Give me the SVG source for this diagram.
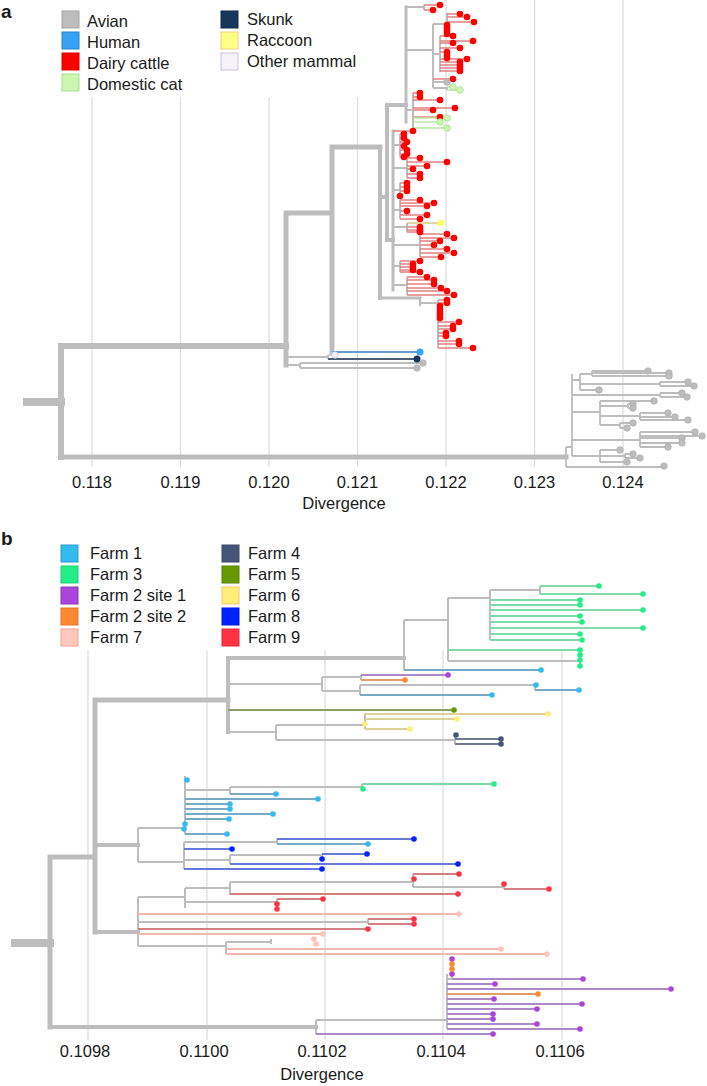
<svg xmlns="http://www.w3.org/2000/svg" width="707" height="1086" viewBox="0 0 707 1086">
<style>
text{font-family:"Liberation Sans",Arial,sans-serif;fill:#1a1a1a}
.lbl{font-size:16.5px}
.tk{font-size:16.5px;text-anchor:middle}
.pl{font-size:19px;font-weight:bold}
.grid line{stroke:#dcdcdc;stroke-width:1.2}
.th{stroke:#bdbdbd;fill:none;stroke-linecap:square}
.g{stroke:#bdbdbd;stroke-width:2;fill:none}
.ga{stroke:#bdbdbd;stroke-width:1.8;fill:none}
.rl{stroke:#e57f7f;stroke-width:1.5;fill:none}
.cl{stroke:#b9e6a3;stroke-width:1.5;fill:none}
.dr circle{fill:#ff0000}
.dc circle{fill:#ccf5b0;stroke:#a8df8c;stroke-width:0.8}
.dg circle{fill:#bdbdbd;stroke:#a9a9a9;stroke-width:0.6}
.f1l{stroke:#78aac8;stroke-width:2;fill:none}
.f3l{stroke:#7fdcaa;stroke-width:2;fill:none}
.f21l{stroke:#ae88c8;stroke-width:2;fill:none}
.f22l{stroke:#e49c6c;stroke-width:2;fill:none}
.f7l{stroke:#efb9b0;stroke-width:2;fill:none}
.f4l{stroke:#6e7890;stroke-width:2;fill:none}
.f5l{stroke:#8ba068;stroke-width:2;fill:none}
.f6l{stroke:#ddd198;stroke-width:2;fill:none}
.f8l{stroke:#6677dd;stroke-width:2;fill:none}
.f9l{stroke:#d58080;stroke-width:2;fill:none}
.f1 circle{fill:#33bbee}
.f3 circle{fill:#22ee88}
.f21 circle{fill:#aa44dd}
.f22 circle{fill:#ff8833}
.f7 circle{fill:#ffc4b8}
.f4 circle{fill:#445577}
.f5 circle{fill:#669900}
.f6 circle{fill:#ffee77}
.f8 circle{fill:#0022ff}
.f9 circle{fill:#ff3344}
</style>

<!-- ===== Panel a ===== -->
<g id="panel-a-grid" class="grid">
<line x1="92" y1="97" x2="92" y2="467"/>
<line x1="180.5" y1="97" x2="180.5" y2="467"/>
<line x1="269" y1="97" x2="269" y2="467"/>
<line x1="357.5" y1="97" x2="357.5" y2="467"/>
<line x1="446" y1="0" x2="446" y2="467"/>
<line x1="534.5" y1="0" x2="534.5" y2="467"/>
<line x1="623" y1="0" x2="623" y2="467"/>
</g>
<text class="pl" x="1" y="18">a</text>

<g id="legend-a">
<rect x="62" y="11" width="17" height="17" fill="#bdbdbd" stroke="#a3a3a3"/>
<text class="lbl" x="87" y="27">Avian</text>
<rect x="62" y="32" width="17" height="17" fill="#35a2f4" stroke="#2a86cc"/>
<text class="lbl" x="87" y="48">Human</text>
<rect x="62" y="53" width="17" height="17" fill="#ff0000" stroke="#e00000"/>
<text class="lbl" x="87" y="69">Dairy cattle</text>
<rect x="62" y="74" width="17" height="17" fill="#ccf5b0" stroke="#a8df8c"/>
<text class="lbl" x="87" y="90">Domestic cat</text>
<rect x="221" y="11" width="17" height="17" fill="#16365c" stroke="#10284a"/>
<text class="lbl" x="247" y="25">Skunk</text>
<rect x="221" y="32" width="17" height="17" fill="#ffff88" stroke="#f2d27a"/>
<text class="lbl" x="247" y="46">Raccoon</text>
<rect x="221" y="53" width="17" height="17" fill="#f6f2fb" stroke="#c9c1dd"/>
<text class="lbl" x="247" y="67">Other mammal</text>
</g>

<g id="tree-a-connectors">
<path class="th" stroke-width="8" d="M27 402H61"/>
<path class="th" stroke-width="6" d="M61 346V457M61 346H286"/>
<path class="th" stroke-width="5" d="M61 457H566M286 213V365M286 213H332M332 147V352M332 147H380"/>
<path class="th" stroke-width="4" d="M380 147V298M380 197H387M387 105V240M387 105H406M387 240H393"/>
<path class="th" stroke-width="3" d="M406 7V122M393 131V290M380 298H420"/>
<path class="g" d="M406 7H424M424 5V10M406 50H433M433 24V88M433 24H447M447 13V34M433 54H440M440 36V72M433 88H447M447 87V90M406 110H413M413 93V128
M393 145H400M400 134V157M393 168H407M407 158V178M393 190H400M400 183V196M393 210H400M400 200V219M393 227H407M407 223V232M393 245H420M420 234V257M393 266H400M400 261V272M393 285H407M407 277V295
M420 298V306M420 303H438M438 300V348M433 82H447
M286 357H328M328 355V359M286 365H300M300 363V368"/>
<path class="rl" d="M424 5H440M424 10H433M447 14H460M447 17H467M447 22H474M440 36H453M440 41H473M440 43H453M440 48H460M440 52H447M440 59H467M440 62H460M440 65H460M440 68H460M440 71H460M433 79H453
M413 93H420M413 97H420M413 100H440M413 108H455M413 110H433M413 117H440
M393 131H413M400 134H404M400 138H404M400 142H407M400 146H404M400 150H407M400 154H407M400 157H404
M407 158H420M407 162H447M407 166H427M407 169H413M407 174H420M407 178H420
M400 183H407M400 187H407M400 191H407
M400 200H420M400 203H434M400 206H427M400 211H407M400 215H427M400 219H420
M407 227H420M407 230H420M407 232H420
M420 234H447M420 238H454M420 241H440M420 245H434M420 249H447M420 253H454M420 257H441
M400 261H420M400 264H413M400 267H413M400 270H413M400 272H420
M407 277H427M407 280H434M407 284H434M407 288H441M407 291H447M407 295H454
M438 300H447M438 303H447M438 322H459M438 326H453M438 329H453M438 333H446M438 336H446M438 341H459M438 344H459M438 348H473"/>
<path class="cl" d="M447 87H453M447 90H460M413 118H447M413 122H440M413 128H447"/>
<path stroke="#d8c77f" stroke-width="1.5" fill="none" d="M407 223H441"/>
<path stroke="#6d9bcb" stroke-width="2" fill="none" d="M332 352H420"/>
<path stroke="#4b5b72" stroke-width="2" fill="none" d="M328 359H417"/>
<path stroke="#c9c1dd" stroke-width="1.5" fill="none" d="M328 355H335"/>
<path class="ga" d="M300 363H423M300 368H417"/>
<path class="ga" d="M566 447V467M566 447H572M572 374V456M572 380H580M580 374V390M580 374H592M592 371V376M592 371H648M592 373H669M592 376H669M580 384H660M660 382V386M660 382H688M660 386H694M580 390H599M572 395H660M660 393V397M660 393H682M660 397H687M572 412H600M600 401V425M600 401H654M600 406H628M628 404V408M628 404H633M628 408H633M600 416H640M640 413V420M640 413H668M640 417H675M640 420H688M600 425H620M620 423V428M620 423H633M620 428H627M572 440H640M640 432V447M640 432H695M640 436H702M640 438H682M640 443H682M640 447H668M572 456H600M600 450V462M600 450H620M600 456H625M625 454V458M625 454H633M625 458H640M600 462H627M566 467H664"/>
</g>

<g id="tips-a-cattle" class="dr">
<circle cx="440" cy="5" r="3.3"/><circle cx="433" cy="10" r="3.3"/><circle cx="460" cy="14" r="3.3"/><circle cx="467" cy="17" r="3.3"/><circle cx="474" cy="22" r="3.3"/>
<circle cx="447" cy="25" r="3.3"/><circle cx="447" cy="28" r="3.3"/><circle cx="447" cy="31" r="3.3"/><circle cx="447" cy="34" r="3.3"/>
<circle cx="453" cy="36" r="3.3"/><circle cx="473" cy="41" r="3.3"/><circle cx="453" cy="43" r="3.3"/><circle cx="460" cy="48" r="3.3"/><circle cx="447" cy="52" r="3.3"/><circle cx="447" cy="55" r="3.3"/><circle cx="447" cy="58" r="3.3"/><circle cx="467" cy="59" r="3.3"/><circle cx="460" cy="62" r="3.3"/><circle cx="460" cy="65" r="3.3"/><circle cx="460" cy="68" r="3.3"/><circle cx="460" cy="71" r="3.3"/><circle cx="453" cy="79" r="3.3"/>
<circle cx="420" cy="93" r="3.3"/><circle cx="420" cy="97" r="3.3"/><circle cx="440" cy="100" r="3.3"/><circle cx="455" cy="108" r="3.3"/><circle cx="433" cy="110" r="3.3"/><circle cx="440" cy="117" r="3.3"/>
<circle cx="413" cy="131" r="3.3"/><circle cx="404" cy="134" r="3.3"/><circle cx="404" cy="138" r="3.3"/><circle cx="407" cy="142" r="3.3"/><circle cx="404" cy="146" r="3.3"/><circle cx="407" cy="150" r="3.3"/><circle cx="407" cy="154" r="3.3"/><circle cx="404" cy="157" r="3.3"/>
<circle cx="420" cy="158" r="3.3"/><circle cx="447" cy="162" r="3.3"/><circle cx="427" cy="166" r="3.3"/><circle cx="413" cy="169" r="3.3"/><circle cx="420" cy="174" r="3.3"/><circle cx="420" cy="178" r="3.3"/>
<circle cx="407" cy="183" r="3.3"/><circle cx="407" cy="187" r="3.3"/><circle cx="407" cy="191" r="3.3"/><circle cx="400" cy="196" r="3.3"/>
<circle cx="420" cy="200" r="3.3"/><circle cx="434" cy="203" r="3.3"/><circle cx="427" cy="206" r="3.3"/><circle cx="407" cy="211" r="3.3"/><circle cx="427" cy="215" r="3.3"/><circle cx="420" cy="219" r="3.3"/>
<circle cx="420" cy="227" r="3.3"/><circle cx="420" cy="230" r="3.3"/><circle cx="420" cy="232" r="3.3"/>
<circle cx="447" cy="234" r="3.3"/><circle cx="454" cy="238" r="3.3"/><circle cx="440" cy="241" r="3.3"/><circle cx="434" cy="245" r="3.3"/><circle cx="447" cy="249" r="3.3"/><circle cx="454" cy="253" r="3.3"/><circle cx="441" cy="257" r="3.3"/>
<circle cx="420" cy="261" r="3.3"/><circle cx="413" cy="264" r="3.3"/><circle cx="413" cy="267" r="3.3"/><circle cx="413" cy="270" r="3.3"/><circle cx="420" cy="272" r="3.3"/>
<circle cx="427" cy="277" r="3.3"/><circle cx="434" cy="280" r="3.3"/><circle cx="434" cy="284" r="3.3"/><circle cx="441" cy="288" r="3.3"/><circle cx="447" cy="291" r="3.3"/><circle cx="454" cy="295" r="3.3"/>
<circle cx="447" cy="300" r="3.3"/><circle cx="447" cy="303" r="3.3"/><circle cx="440" cy="306" r="3.3"/><circle cx="440" cy="309" r="3.3"/><circle cx="440" cy="312" r="3.3"/><circle cx="440" cy="315" r="3.3"/><circle cx="440" cy="318" r="3.3"/><circle cx="459" cy="322" r="3.3"/><circle cx="453" cy="326" r="3.3"/><circle cx="453" cy="329" r="3.3"/><circle cx="446" cy="333" r="3.3"/><circle cx="446" cy="336" r="3.3"/><circle cx="459" cy="341" r="3.3"/><circle cx="459" cy="344" r="3.3"/><circle cx="473" cy="348" r="3.3"/>
</g>
<g id="tips-a-cat" class="dc">
<circle cx="453" cy="87" r="3.3"/><circle cx="460" cy="90" r="3.3"/><circle cx="447" cy="118" r="3.3"/><circle cx="440" cy="122" r="3.3"/><circle cx="447" cy="128" r="3.3"/>
</g>
<g id="tips-a-other">
<circle cx="441" cy="223" r="3.3" fill="#ffff66"/>
<circle cx="420" cy="352" r="3.5" fill="#36a3f5"/>
<circle cx="417" cy="359" r="3.5" fill="#16365c"/>
<circle cx="335" cy="355" r="3.3" fill="#f4f0fa" stroke="#c9c1dd" stroke-width="0.8"/>
</g>
<g id="tips-a-avian" class="dg">
<circle cx="447" cy="82" r="3.3"/><circle cx="423" cy="363" r="3.3"/><circle cx="417" cy="368" r="3.3"/>
<circle cx="648" cy="371" r="3.3"/><circle cx="669" cy="373" r="3.3"/><circle cx="669" cy="376" r="3.3"/><circle cx="688" cy="382" r="3.3"/><circle cx="694" cy="386" r="3.3"/><circle cx="599" cy="390" r="3.3"/><circle cx="682" cy="393" r="3.3"/><circle cx="687" cy="397" r="3.3"/><circle cx="654" cy="401" r="3.3"/><circle cx="633" cy="404" r="3.3"/><circle cx="633" cy="408" r="3.3"/><circle cx="668" cy="413" r="3.3"/><circle cx="675" cy="417" r="3.3"/><circle cx="688" cy="420" r="3.3"/><circle cx="633" cy="423" r="3.3"/><circle cx="627" cy="428" r="3.3"/><circle cx="695" cy="432" r="3.3"/><circle cx="702" cy="436" r="3.3"/><circle cx="682" cy="438" r="3.3"/><circle cx="682" cy="443" r="3.3"/><circle cx="668" cy="447" r="3.3"/><circle cx="620" cy="450" r="3.3"/><circle cx="633" cy="454" r="3.3"/><circle cx="640" cy="458" r="3.3"/><circle cx="627" cy="462" r="3.3"/><circle cx="664" cy="466" r="3.3"/>
</g>

<g id="axis-a">
<text class="tk" x="92" y="488">0.118</text>
<text class="tk" x="180.5" y="488">0.119</text>
<text class="tk" x="269" y="488">0.120</text>
<text class="tk" x="357.5" y="488">0.121</text>
<text class="tk" x="446" y="488">0.122</text>
<text class="tk" x="534.5" y="488">0.123</text>
<text class="tk" x="623" y="488">0.124</text>
<text class="tk" x="344" y="509">Divergence</text>
</g>

<!-- ===== Panel b ===== -->
<text class="pl" x="1" y="545">b</text>
<g id="panel-b-grid" class="grid">
<line x1="88" y1="650" x2="88" y2="1040"/>
<line x1="207" y1="650" x2="207" y2="1040"/>
<line x1="325" y1="650" x2="325" y2="1040"/>
<line x1="443" y1="650" x2="443" y2="1040"/>
<line x1="562" y1="650" x2="562" y2="1040"/>
</g>

<g id="legend-b">
<rect x="61" y="545" width="17" height="17" fill="#33bbee" stroke="#2a9ccc"/>
<text class="lbl" x="90" y="559">Farm 1</text>
<rect x="61" y="566" width="17" height="17" fill="#22ee88" stroke="#1fcf77"/>
<text class="lbl" x="90" y="580">Farm 3</text>
<rect x="61" y="587" width="17" height="17" fill="#aa44dd" stroke="#8a38b5"/>
<text class="lbl" x="90" y="601">Farm 2 site 1</text>
<rect x="61" y="608" width="17" height="17" fill="#ff8833" stroke="#e9722a"/>
<text class="lbl" x="90" y="622">Farm 2 site 2</text>
<rect x="61" y="629" width="17" height="17" fill="#ffc8bc" stroke="#f0a091"/>
<text class="lbl" x="90" y="643">Farm 7</text>
<rect x="222" y="545" width="17" height="17" fill="#445577" stroke="#3a4a66"/>
<text class="lbl" x="248" y="559">Farm 4</text>
<rect x="222" y="566" width="17" height="17" fill="#669900" stroke="#588400"/>
<text class="lbl" x="248" y="580">Farm 5</text>
<rect x="222" y="587" width="17" height="17" fill="#ffee77" stroke="#f5cc66"/>
<text class="lbl" x="248" y="601">Farm 6</text>
<rect x="222" y="608" width="17" height="17" fill="#0022ff" stroke="#001be0"/>
<text class="lbl" x="248" y="622">Farm 8</text>
<rect x="222" y="629" width="17" height="17" fill="#ff3344" stroke="#e02a3a"/>
<text class="lbl" x="248" y="643">Farm 9</text>
</g>

<g id="tree-b-connectors">
<path class="th" stroke-width="8" d="M15 943H50"/>
<path class="th" stroke-width="5" d="M50 857V1027M50 857H95M95 700V932M95 700H228"/>
<path class="th" stroke-width="4" d="M50 1027H316M228 658V732M228 658H404M95 845H138M95 932H138"/>
<path class="g" stroke-width="2.5" d="M138 828V862M138 828H185M138 862H184M138 897V946M316 1020V1034M316 1020H447"/>
<path class="g" d="M404 620V670M404 620H448M448 598V661M448 598H490M490 590V640M490 590H540M540 586V594M448 661H580M580 655V666
M228 684H322M322 677V691M322 677H361M361 675V680M322 691H360M360 685V695M360 685H535M535 685V690M228 732H276M276 725V740M276 725H365M365 714V729M276 740H455M455 735V744
M185 776V834M185 790H230M230 787V794M230 787H362M362 784V789M184 842V869M184 842H277M277 839V844M184 860H230M230 855V864M230 855H322M322 854V859
M138 897H185M185 888V908M185 888H230M230 882V895M230 882H413M413 874V887M413 887H504M504 884V889M185 902H277M277 899V909M138 922H368M368 919V924M138 946H226M226 942V954M226 942H271M271 939V944
M447 974V1029M452 959V979M447 979H452"/>
<path class="f3l" d="M540 586H599M540 594H643M490 600H580M490 605H580M490 610H643M490 616H580M490 622H582M490 628H643M490 634H580M490 640H582M448 650H580M362 784H494"/>
<path class="f1l" d="M404 670H541M535 690H579M360 695H492M230 794H276M185 799H318M185 804H230M185 809H230M185 814H273M185 819H229M185 834H227M277 844H368"/>
<path class="f21l" d="M361 675H448M452 979H583M447 984H495M447 989H671M447 999H494M447 1004H582M447 1009H537M447 1014H493M447 1019H493M447 1024H537M447 1029H580M316 1034H493"/>
<path class="f22l" d="M361 680H405M447 994H538"/>
<path class="f5l" d="M228 710H454"/>
<path class="f6l" d="M365 714H548M365 719H457M365 729H410"/>
<path class="f4l" d="M455 739H501M455 744H501"/>
<path class="f8l" d="M277 839H414M184 849H232M322 854H367M230 864H458M184 869H322"/>
<path class="f9l" d="M413 874H459M504 889H549M230 894H458M277 899H323M368 919H414M368 924H414M138 929H368"/>
<path class="f7l" d="M138 914H459M138 934H323M226 949H501M226 954H547"/>
</g>

<g id="tips-b-farm3" class="f3">
<circle cx="599" cy="586" r="2.8"/><circle cx="643" cy="594" r="2.8"/><circle cx="580" cy="600" r="2.8"/><circle cx="580" cy="605" r="2.8"/><circle cx="643" cy="610" r="2.8"/><circle cx="580" cy="616" r="2.8"/><circle cx="582" cy="622" r="2.8"/><circle cx="643" cy="628" r="2.8"/><circle cx="580" cy="634" r="2.8"/><circle cx="582" cy="640" r="2.8"/><circle cx="580" cy="650" r="2.8"/><circle cx="580" cy="655" r="2.8"/><circle cx="580" cy="660" r="2.8"/><circle cx="580" cy="666" r="2.8"/><circle cx="494" cy="784" r="2.8"/><circle cx="363" cy="789" r="2.8"/>
</g>
<g id="tips-b-farm1" class="f1">
<circle cx="541" cy="670" r="2.8"/><circle cx="536" cy="685" r="2.8"/><circle cx="579" cy="690" r="2.8"/><circle cx="492" cy="695" r="2.8"/>
<circle cx="187" cy="780" r="2.8"/><circle cx="276" cy="794" r="2.8"/><circle cx="318" cy="799" r="2.8"/><circle cx="230" cy="804" r="2.8"/><circle cx="230" cy="809" r="2.8"/><circle cx="273" cy="814" r="2.8"/><circle cx="229" cy="819" r="2.8"/><circle cx="185" cy="824" r="2.8"/><circle cx="184" cy="829" r="2.8"/><circle cx="227" cy="834" r="2.8"/><circle cx="368" cy="844" r="2.8"/>
</g>
<g id="tips-b-farm2s1" class="f21">
<circle cx="448" cy="675" r="2.8"/><circle cx="452" cy="959" r="2.8"/><circle cx="452" cy="974" r="2.8"/><circle cx="583" cy="979" r="2.8"/><circle cx="495" cy="984" r="2.8"/><circle cx="671" cy="989" r="2.8"/><circle cx="494" cy="999" r="2.8"/><circle cx="582" cy="1004" r="2.8"/><circle cx="537" cy="1009" r="2.8"/><circle cx="493" cy="1014" r="2.8"/><circle cx="493" cy="1019" r="2.8"/><circle cx="537" cy="1024" r="2.8"/><circle cx="580" cy="1029" r="2.8"/><circle cx="493" cy="1034" r="2.8"/>
</g>
<g id="tips-b-farm2s2" class="f22">
<circle cx="405" cy="680" r="2.8"/><circle cx="452" cy="964" r="2.8"/><circle cx="452" cy="969" r="2.8"/><circle cx="538" cy="994" r="2.8"/>
</g>
<g id="tips-b-farm5" class="f5"><circle cx="454" cy="710" r="2.8"/></g>
<g id="tips-b-farm6" class="f6">
<circle cx="548" cy="714" r="2.8"/><circle cx="457" cy="719" r="2.8"/><circle cx="365" cy="724" r="2.8"/><circle cx="410" cy="729" r="2.8"/>
</g>
<g id="tips-b-farm4" class="f4">
<circle cx="456" cy="735" r="2.8"/><circle cx="501" cy="739" r="2.8"/><circle cx="501" cy="744" r="2.8"/>
</g>
<g id="tips-b-farm8" class="f8">
<circle cx="414" cy="839" r="2.8"/><circle cx="232" cy="849" r="2.8"/><circle cx="367" cy="854" r="2.8"/><circle cx="322" cy="859" r="2.8"/><circle cx="458" cy="864" r="2.8"/><circle cx="322" cy="869" r="2.8"/>
</g>
<g id="tips-b-farm9" class="f9">
<circle cx="459" cy="874" r="2.8"/><circle cx="414" cy="879" r="2.8"/><circle cx="504" cy="884" r="2.8"/><circle cx="549" cy="889" r="2.8"/><circle cx="458" cy="894" r="2.8"/><circle cx="323" cy="899" r="2.8"/><circle cx="277" cy="904" r="2.8"/><circle cx="277" cy="909" r="2.8"/><circle cx="414" cy="919" r="2.8"/><circle cx="414" cy="924" r="2.8"/><circle cx="368" cy="929" r="2.8"/>
</g>
<g id="tips-b-farm7" class="f7">
<circle cx="459" cy="914" r="2.8"/><circle cx="323" cy="934" r="2.8"/><circle cx="314" cy="939" r="2.8"/><circle cx="316" cy="944" r="2.8"/><circle cx="501" cy="949" r="2.8"/><circle cx="547" cy="954" r="2.8"/>
</g>

<g id="axis-b">
<text class="tk" x="85" y="1057">0.1098</text>
<text class="tk" x="204" y="1057">0.1100</text>
<text class="tk" x="322" y="1057">0.1102</text>
<text class="tk" x="441" y="1057">0.1104</text>
<text class="tk" x="560" y="1057">0.1106</text>
<text class="tk" x="322" y="1080">Divergence</text>
</g>
</svg>
